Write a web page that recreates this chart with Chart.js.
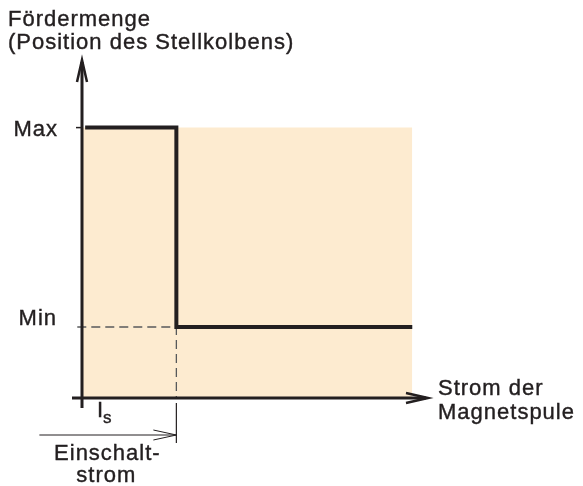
<!DOCTYPE html>
<html>
<head>
<meta charset="utf-8">
<script src="https://cdn.jsdelivr.net/npm/chart.js@4"></script>
<style>
  html, body { margin: 0; padding: 0; background: #fff; }
  canvas { display: block; }
</style>
</head>
<body>
<canvas id="pumpChart" width="583" height="486"></canvas>
<script>
// Daten (Achsen ohne Zahlenwerte, nur qualitativ)
const levelLabels = ["Min", "Max"];
const levelValues = [1.05, 4];
const switchCurrent = 3;            // I_s
const curveX = [0.1, 3, 10.5];
const curveY = [4, 1.05, 1.05];
const shadeX = [0, 10.5];
const shadeY = [4, 4];
const yAxisTitle = ["Fördermenge", "(Position des Stellkolbens)"];
const xAxisTitle = ["Strom der", "Magnetspule"];
const switchLabel = ["Einschalt-", "strom"];

const FONT = '22px "Liberation Sans", Arial, sans-serif';
const INK = "#231f20";

// Text etwas kräftiger zeichnen
function heavyText(ctx, txt, x, y) {
  ctx.fillText(txt, x, y);
  ctx.strokeText(txt, x, y);
}

// Achsen, Pfeile und Beschriftungen
const diagramPlugin = {
  id: "diagram",
  afterDatasetsDraw(chart) {
    const { ctx, scales: { x, y } } = chart;
    const x0 = x.getPixelForValue(0);
    const y0 = y.getPixelForValue(0);
    const xEnd = x.right;
    const yTop = y.top;
    const xs = x.getPixelForValue(switchCurrent);
    const yMin = y.getPixelForValue(levelValues[0]);
    const yMax = y.getPixelForValue(levelValues[1]);

    ctx.save();
    ctx.strokeStyle = INK;
    ctx.lineCap = "butt";

    // Achsen
    ctx.lineWidth = 3;
    ctx.beginPath();
    ctx.moveTo(x0, y0 + 10);
    ctx.lineTo(x0, yTop + 2);
    ctx.moveTo(x0 - 10, y0);
    ctx.lineTo(xEnd - 2, y0);
    ctx.stroke();

    // Pfeilspitzen
    ctx.lineWidth = 2.5;
    ctx.lineJoin = "miter";
    ctx.beginPath();
    ctx.moveTo(x0 - 5, yTop + 22);
    ctx.lineTo(x0, yTop);
    ctx.lineTo(x0 + 5, yTop + 22);
    ctx.moveTo(xEnd - 22, y0 - 5);
    ctx.lineTo(xEnd, y0);
    ctx.lineTo(xEnd - 22, y0 + 5);
    ctx.stroke();

    // Tick bei Max
    ctx.lineWidth = 1.5;
    ctx.beginPath();
    ctx.moveTo(x0 - 6, yMax);
    ctx.lineTo(x0, yMax);
    ctx.stroke();

    // Einschaltstrom-Markierung
    ctx.lineWidth = 1.2;
    ctx.beginPath();
    ctx.moveTo(xs, y0 + 5);
    ctx.lineTo(xs, y0 + 45);
    ctx.stroke();
    const ay = y0 + 37;
    ctx.lineWidth = 1;
    ctx.beginPath();
    ctx.moveTo(xs - 137, ay);
    ctx.lineTo(xs, ay);
    ctx.moveTo(xs - 23, ay - 5);
    ctx.lineTo(xs, ay);
    ctx.lineTo(xs - 23, ay + 5);
    ctx.stroke();

    // Texte
    ctx.fillStyle = INK;
    ctx.lineWidth = 0.4;
    ctx.font = FONT;
    ctx.letterSpacing = "1px";
    ctx.textBaseline = "alphabetic";

    ctx.textAlign = "left";
    heavyText(ctx, yAxisTitle[0], 8, yTop - 34);
    heavyText(ctx, yAxisTitle[1], 8, yTop - 11);
    heavyText(ctx, xAxisTitle[0], xEnd + 10, y0 - 3);
    heavyText(ctx, xAxisTitle[1], xEnd + 10, y0 + 21);

    ctx.textAlign = "right";
    heavyText(ctx, levelLabels[1], x0 - 24, yMax + 8);
    heavyText(ctx, levelLabels[0], x0 - 25, yMin - 2);

    ctx.textAlign = "center";
    heavyText(ctx, switchLabel[0], xs - 69, y0 + 62);
    heavyText(ctx, switchLabel[1], xs - 70, y0 + 84);

    // I_s
    ctx.textAlign = "left";
    ctx.letterSpacing = "0px";
    heavyText(ctx, "I", x0 + 15, y0 + 19);
    ctx.font = '17px "Liberation Sans", Arial, sans-serif';
    heavyText(ctx, "s", x0 + 21, y0 + 25);
    ctx.restore();
  }
};

const ctx = document.getElementById("pumpChart").getContext("2d");
new Chart(ctx, {
  type: "line",
  data: {
    datasets: [
      {
        // Kennlinie
        data: curveX.map((v, i) => ({ x: v, y: curveY[i] })),
        borderColor: INK,
        borderWidth: 4,
        stepped: "before",
        pointRadius: 0,
        fill: false,
        order: 0,
        clip: false
      },
      {
        // Hilfslinien gestrichelt
        data: [
          { x: -0.15, y: levelValues[0] },
          { x: switchCurrent, y: levelValues[0] },
          { x: switchCurrent, y: 0 }
        ],
        borderColor: "#58595b",
        borderWidth: 1.3,
        borderDash: [9, 5],
        pointRadius: 0,
        fill: false,
        order: 1,
        clip: false
      },
      {
        // Hintergrundfläche
        data: shadeX.map((v, i) => ({ x: v, y: shadeY[i] })),
        borderWidth: 0,
        borderColor: "rgba(0,0,0,0)",
        backgroundColor: "#fdebd0",
        pointRadius: 0,
        fill: "origin",
        order: 2
      }
    ]
  },
  options: {
    responsive: false,
    animation: false,
    layout: { padding: { left: 82, right: 155, top: 60, bottom: 88 } },
    plugins: { legend: { display: false }, tooltip: { enabled: false } },
    scales: {
      x: { type: "linear", min: 0, max: 11, display: false },
      y: { type: "linear", min: 0, max: 5, display: false }
    }
  },
  plugins: [diagramPlugin]
});
</script>
</body>
</html>
